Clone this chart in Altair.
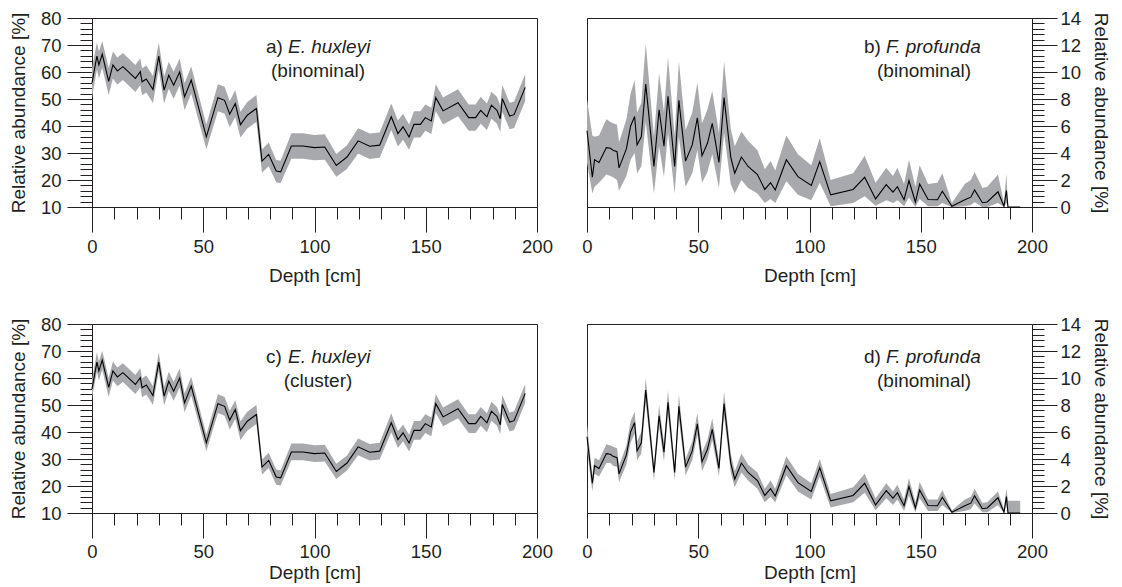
import altair as alt
import pandas as pd

# ---------------- data ----------------
depth_eh = [0, 2.2, 3.1, 4.6, 7.5, 9.4, 11.4, 13.9, 19.5, 21.7, 22.5, 24.4, 27.4, 30.0, 32.4,
            34.5, 36.7, 39.4, 41.6, 44.6, 51.4, 56.6, 59.6, 61.9, 64.4, 66.7, 69.8, 73.9, 76.4,
            79.4, 82.8, 84.8, 89.6, 94.8, 100.0, 104.6, 109.8, 114.6, 119.6, 124.8, 129.3, 134.5,
            137.5, 139.8, 142.5, 144.7, 147.6, 149.8, 152.5, 154.5, 157.8, 164.5, 169.3, 172.4,
            174.7, 177.5, 179.5, 182.0, 183.5, 184.4, 187.7, 189.7, 194.7]
ehux = [56, 65.9, 62.6, 66.6, 56.5, 62.6, 60.4, 62.0, 57.6, 60.1, 56.4, 57.4, 53.5, 65.9, 53.3,
        58.8, 55.1, 60.0, 50.8, 57.0, 36.0, 50.5, 49.5, 44.4, 48.3, 40.5, 44.0, 46.5, 27.0, 29.5,
        23.3, 23.0, 32.6, 32.6, 32.0, 32.2, 25.4, 28.5, 34.5, 32.5, 32.9, 43.4, 37.2, 39.7, 35.9,
        40.6, 40.6, 43.1, 41.9, 50.5, 45.6, 48.6, 43.1, 43.1, 45.8, 43.4, 47.7, 45.8, 42.7, 50.2,
        43.7, 44.2, 54.3]
ehux_hi_a = [61.5, 70.9, 67.6, 71.5, 61.5, 67.6, 65.4, 67.0, 62.6, 65.1, 61.4, 62.4, 58.5, 70.9,
             58.3, 63.8, 60.1, 65.0, 55.8, 62.0, 40.6, 55.5, 54.5, 49.3, 53.3, 45.3, 48.9, 51.5,
             31.3, 33.9, 27.4, 27.1, 37.3, 37.3, 36.7, 36.9, 29.6, 32.9, 39.2, 37.2, 37.6, 48.3,
             42.0, 44.5, 40.6, 45.5, 45.5, 48.0, 46.8, 55.5, 50.6, 53.6, 48.0, 48.0, 50.8, 48.3,
             52.7, 50.8, 47.6, 55.2, 48.6, 49.1, 59.3]
ehux_lo_a = [50.5, 60.9, 57.6, 61.6, 51.5, 57.6, 55.4, 57.0, 52.6, 55.1, 51.4, 52.4, 48.5, 60.9,
             48.3, 53.8, 50.1, 55.0, 45.8, 52.0, 31.4, 45.5, 44.5, 39.5, 43.3, 35.7, 39.1, 41.5,
             22.7, 25.1, 19.2, 18.9, 27.9, 27.9, 27.3, 27.5, 21.2, 24.1, 29.8, 27.8, 28.2, 38.5,
             32.4, 34.9, 31.2, 35.7, 35.7, 38.2, 37.0, 45.5, 40.6, 43.6, 38.2, 38.2, 40.8, 38.5,
             42.7, 40.8, 37.8, 45.2, 38.8, 39.3, 49.3]
ehux_hi_c = [59.5, 69.4, 66.1, 70.1, 60.0, 66.1, 63.9, 65.5, 61.1, 63.6, 59.9, 60.9, 57.0, 69.4,
             56.8, 62.3, 58.6, 63.5, 54.3, 60.5, 39.1, 54.0, 53.0, 47.9, 51.8, 44.0, 47.5, 50.0,
             29.8, 32.3, 26.1, 25.8, 35.7, 35.7, 35.1, 35.3, 28.2, 31.3, 37.6, 35.6, 36.0, 46.9,
             40.3, 42.8, 39.0, 44.1, 44.1, 46.6, 45.4, 54.0, 49.1, 52.1, 46.6, 46.6, 49.3, 46.9,
             51.2, 49.3, 46.2, 53.7, 47.2, 47.7, 57.8]
ehux_lo_c = [52.5, 62.4, 59.1, 63.1, 53.0, 59.1, 56.9, 58.5, 54.1, 56.6, 52.9, 53.9, 50.0, 62.4,
             49.8, 55.3, 51.6, 56.5, 47.3, 53.5, 32.9, 47.0, 46.0, 40.9, 44.8, 37.0, 40.5, 43.0,
             24.2, 26.7, 20.5, 20.2, 29.5, 29.5, 28.9, 29.1, 22.6, 25.7, 31.4, 29.4, 29.8, 39.9,
             34.1, 36.6, 32.8, 37.1, 37.1, 39.6, 38.4, 47.0, 42.1, 45.1, 39.6, 39.6, 42.3, 39.9,
             44.2, 42.3, 39.2, 46.7, 40.2, 40.7, 50.8]

depth_fp = [0, 2.4, 3.4, 5.4, 8.7, 10.6, 11.7, 13.5, 14.4, 17.7, 19.6, 21.4, 22.5, 24.4, 26.4,
            30.1, 32.4, 34.6, 36.4, 39.4, 41.3, 44.3, 47.3, 49.6, 51.7, 54.1, 56.3, 59.3, 61.6,
            64.6, 66.4, 69.4, 72.4, 76.6, 79.9, 82.5, 84.6, 89.6, 94.8, 100.8, 104.6, 109.5,
            119.6, 124.8, 129.7, 134.5, 137.5, 139.5, 142.5, 144.7, 147.6, 149.5, 153.3, 157.5,
            159.7, 164.0, 169.8, 172.5, 174.2, 177.7, 179.9, 184.7, 187.4, 188.5, 189.2, 194.7]
fprof = [5.65, 2.2, 3.5, 3.3, 4.4, 4.35, 4.2, 4.1, 2.9, 4.3, 6.0, 6.7, 4.6, 5.2, 9.1, 3.0, 7.2,
         4.5, 8.2, 3.0, 7.9, 3.4, 4.6, 6.6, 3.8, 4.7, 6.2, 3.3, 8.1, 3.7, 2.5, 3.7, 3.0, 2.4, 1.3,
         1.8, 1.26, 3.5, 2.25, 1.6, 3.36, 0.9, 1.3, 2.2, 0.6, 1.66, 1.1, 1.5, 0.54, 1.96, 0.37,
         1.7, 0.56, 0.54, 1.17, 0.05, 0.54, 0.73, 1.27, 0.32, 0.37, 1.13, 0.05, 1.22, 0.0, 0.0]
fprof_hi_b = [8.0, 5.3, 5.2, 5.3, 6.5, 6.3, 6.2, 6.1, 4.8, 6.5, 8.4, 9.4, 7.0, 7.7, 12.1, 5.2, 9.9,
              7.0, 11.1, 5.3, 10.8, 5.7, 7.0, 9.2, 6.2, 7.2, 8.6, 5.5, 10.8, 5.8, 4.5, 5.6, 4.9,
              4.2, 2.8, 3.4, 2.7, 5.3, 3.9, 3.1, 5.1, 2.0, 2.5, 3.8, 1.8, 2.9, 2.3, 2.9, 1.7, 3.5,
              1.5, 3.1, 1.7, 1.8, 2.5, 0.3, 1.7, 2.0, 2.6, 1.4, 1.5, 2.4, 0.3, 2.5, 0.0, 0.0]
fprof_lo_b = [3.3, 1.0, 1.5, 1.8, 2.4, 2.3, 2.2, 2.0, 1.2, 2.3, 3.5, 4.0, 2.5, 3.0, 6.3, 1.0, 4.5,
              2.2, 5.5, 1.0, 5.2, 1.5, 2.5, 4.2, 1.8, 2.6, 3.9, 1.4, 5.5, 1.7, 1.0, 2.0, 1.4, 1.0,
              0.3, 0.6, 0.3, 1.9, 0.9, 0.5, 1.8, 0.05, 0.3, 0.8, 0.1, 0.5, 0.3, 0.5, 0.05, 0.7,
              0.0, 0.6, 0.05, 0.05, 0.3, 0.0, 0.05, 0.15, 0.35, 0.0, 0.0, 0.3, 0.0, 0.3, 0.0, 0.0]
fprof_hi_d = [6.6, 2.8, 4.1, 3.9, 5.1, 5.0, 4.9, 4.8, 3.5, 5.0, 6.8, 7.5, 5.3, 6.0, 10.0, 3.6, 8.0,
              5.2, 9.1, 3.6, 8.8, 4.0, 5.3, 7.4, 4.5, 5.4, 7.0, 3.9, 9.0, 4.4, 3.1, 4.4, 3.6, 3.0,
              1.8, 2.4, 1.8, 4.2, 2.9, 2.2, 4.0, 1.4, 1.9, 2.9, 1.1, 2.2, 1.6, 2.1, 1.0, 2.6, 0.8,
              2.3, 1.0, 1.0, 1.7, 0.2, 1.0, 1.2, 1.8, 0.75, 0.8, 1.6, 0.3, 1.8, 0.9, 0.9]
fprof_lo_d = [4.7, 1.6, 2.9, 2.7, 3.7, 3.7, 3.5, 3.4, 2.3, 3.6, 5.2, 5.9, 3.9, 4.4, 8.2, 2.4, 6.4,
              3.8, 7.3, 2.4, 7.0, 2.8, 3.9, 5.8, 3.1, 4.0, 5.4, 2.7, 7.2, 3.0, 1.9, 3.0, 2.4, 1.8,
              0.8, 1.2, 0.8, 2.8, 1.6, 1.0, 2.7, 0.4, 0.8, 1.5, 0.2, 1.1, 0.6, 1.0, 0.15, 1.3,
              0.05, 1.1, 0.15, 0.15, 0.6, 0.0, 0.15, 0.3, 0.7, 0.05, 0.05, 0.6, 0.0, 0.6, 0.0, 0.0]

# axis ticks / labels
x_major = [0, 50, 100, 150, 200]
x_minor = [0, 10, 20, 30, 40, 50, 60, 70, 80, 90, 100, 110, 120, 130, 140, 150, 160, 170, 180,
           190, 200]
yl_major = [10, 20, 30, 40, 50, 60, 70, 80]
yl_minor = [10, 12, 14, 16, 18, 20, 22, 24, 26, 28, 30, 32, 34, 36, 38, 40, 42, 44, 46, 48, 50,
            52, 54, 56, 58, 60, 62, 64, 66, 68, 70, 72, 74, 76, 78, 80]
yr_major = [0, 2, 4, 6, 8, 10, 12, 14]
yr_minor = [0, 0.4, 0.8, 1.2, 1.6, 2, 2.4, 2.8, 3.2, 3.6, 4, 4.4, 4.8, 5.2, 5.6, 6, 6.4, 6.8,
            7.2, 7.6, 8, 8.4, 8.8, 9.2, 9.6, 10, 10.4, 10.8, 11.2, 11.6, 12, 12.4, 12.8, 13.2,
            13.6, 14]

panel_tags = ["a)", "b)", "c)", "d)"]
panel_species = ["E. huxleyi", "F. profunda", "E. huxleyi", "F. profunda"]
panel_method = ["(binominal)", "(binominal)", "(cluster)", "(binominal)"]

x_title = "Depth [cm]"
y_title = "Relative abundance [%]"

# ---------------- styling ----------------
FONT = "Liberation Sans"
INK = "#231f20"
BAND = "#a7a9ac"
W, H = 445, 189
FS_LAB = 18.5
FS_TIT = 19


def panel(i, depths, vals, lo, hi, side, ydom, ymaj, ymin, tx, ty, lab_pad, tit_pad):
    df = pd.DataFrame({"depth": depths, "val": vals, "lo": lo, "hi": hi})
    xs = alt.Scale(domain=[0, 200], nice=False, zero=False)
    ys = alt.Scale(domain=ydom, nice=False, zero=False)

    x_minor_ax = alt.Axis(values=x_minor, orient="bottom", tickSize=12, labels=False,
                          domain=False, grid=False, title=None)
    x_major_ax = alt.Axis(values=x_major, orient="bottom", tickSize=25, labelPadding=lab_pad,
                          labelFlush=False, labelOverlap=False, labelBound=False,
                          domain=False, grid=False, title=x_title, titlePadding=tit_pad)
    y_minor_ax = alt.Axis(values=ymin, orient=side, tickSize=12, labels=False,
                          domain=False, grid=False, title=None)
    y_major_ax = alt.Axis(values=ymaj, orient=side, tickSize=25,
                          labelPadding=6 if side == "left" else 3,
                          labelFlush=False, labelOverlap=False, labelBound=False,
                          domain=False, grid=False, title=y_title,
                          titlePadding=12 if side == "left" else 10)

    band = alt.Chart(df).mark_area(color=BAND, opacity=1, strokeWidth=0).encode(
        x=alt.X("depth:Q", scale=xs, axis=x_minor_ax),
        y=alt.Y("lo:Q", scale=ys, axis=y_minor_ax),
        y2="hi:Q",
    )
    line = alt.Chart(df).mark_line(color="#000000", strokeWidth=1.1).encode(
        x=alt.X("depth:Q", scale=xs, axis=x_major_ax),
        y=alt.Y("val:Q", scale=ys, axis=y_major_ax),
    )
    tdf = pd.DataFrame({"tag": [panel_tags[i]], "sp": [panel_species[i]],
                        "m": [panel_method[i]]})
    t_tag = alt.Chart(tdf).mark_text(align="left", baseline="middle", font=FONT,
                                     fontSize=FS_TIT, color=INK).encode(
        x=alt.value(tx), y=alt.value(ty), text="tag:N")
    t_sp = alt.Chart(tdf).mark_text(align="left", baseline="middle", font=FONT,
                                    fontSize=FS_TIT, fontStyle="italic", color=INK).encode(
        x=alt.value(tx + 22), y=alt.value(ty), text="sp:N")
    t_m = alt.Chart(tdf).mark_text(align="center", baseline="middle", font=FONT,
                                   fontSize=FS_TIT, color=INK).encode(
        x=alt.value(tx + 52 if side == "left" else tx + 60), y=alt.value(ty + 24), text="m:N")

    return alt.layer(band, line, t_tag, t_sp, t_m).resolve_axis(
        x="independent", y="independent").properties(width=W, height=H)


pa = panel(0, depth_eh, ehux, ehux_lo_a, ehux_hi_a, "left", [10, 80], yl_major, yl_minor,
           174, 29, 5, 11)
pb = panel(1, depth_fp, fprof, fprof_lo_b, fprof_hi_b, "right", [0, 14], yr_major, yr_minor,
           277, 29, 5, 11)
pc = panel(2, depth_eh, ehux, ehux_lo_c, ehux_hi_c, "left", [10, 80], yl_major, yl_minor,
           174, 33, 4, 3)
pd_ = panel(3, depth_fp, fprof, fprof_lo_d, fprof_hi_d, "right", [0, 14], yr_major, yr_minor,
            277, 33, 4, 3)

chart = alt.concat(pa, pb, pc, pd_, columns=2,
                   spacing={"row": 117, "column": 50}, bounds="flush").properties(
    padding={"left": 8, "top": 8, "right": 5, "bottom": 5}
).configure(font=FONT).configure_view(
    stroke=INK, strokeWidth=1
).configure_axis(
    labelFont=FONT, labelFontSize=FS_LAB, labelColor=INK,
    titleFont=FONT, titleFontSize=FS_TIT, titleFontWeight="normal", titleColor=INK,
    tickColor=INK, tickWidth=1,
)

chart.save("out.html", embed_options={"renderer": "svg", "actions": False})
